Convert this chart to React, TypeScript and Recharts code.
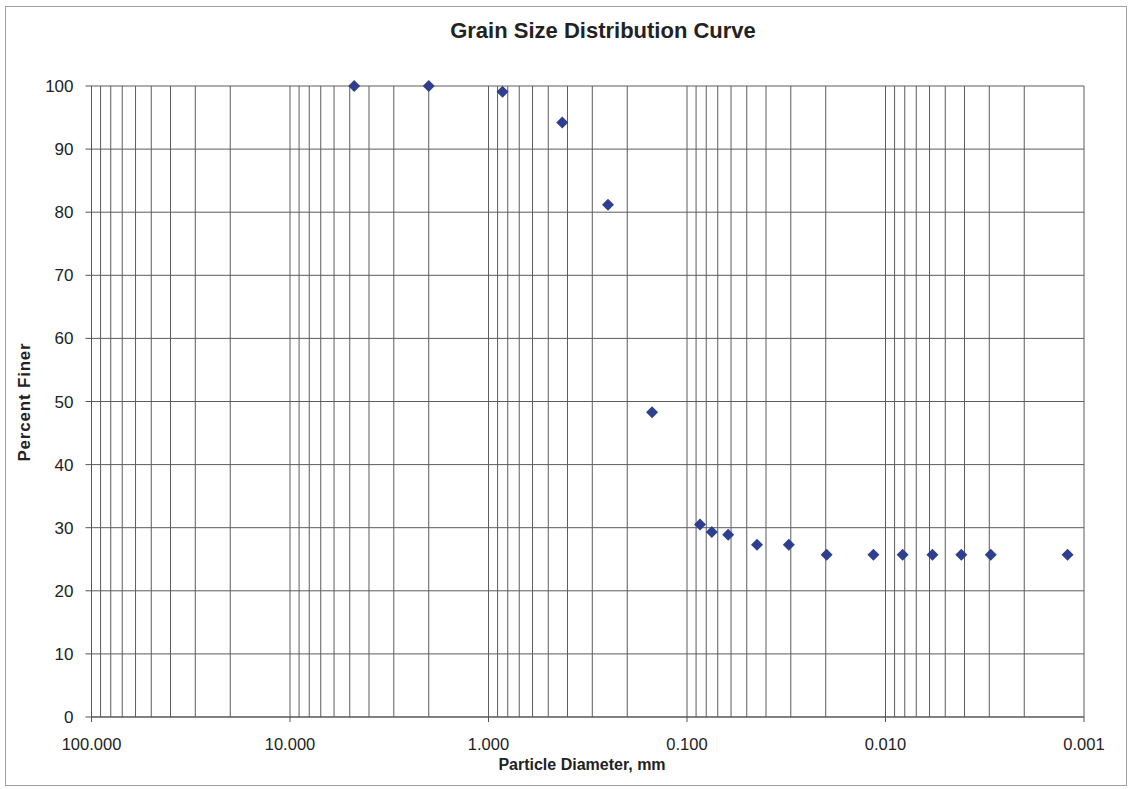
import React from "react";
import {
  CartesianGrid,
  ReferenceLine,
  Scatter,
  ScatterChart,
  XAxis,
  YAxis,
} from "recharts";

// sieve + hydrometer readings
const diameters = [
  4.75, 2.0, 0.85, 0.425, 0.25, 0.15, 0.086, 0.075, 0.062, 0.0444, 0.0307,
  0.0198, 0.0115, 0.0082, 0.0058, 0.00415, 0.00295, 0.00121,
];
const percentFiner = [
  100, 100, 99.1, 94.2, 81.2, 48.3, 30.5, 29.3, 28.9, 27.3, 27.3, 25.7, 25.7,
  25.7, 25.7, 25.7, 25.7, 25.7,
];
const decadeTicks = [100, 10, 1, 0.1, 0.01, 0.001];
const yTicks = [0, 10, 20, 30, 40, 50, 60, 70, 80, 90, 100];

// log grid: 1..9 in each decade
const gridValues: number[] = [];
[0.001, 0.01, 0.1, 1, 10].forEach((d) => {
  for (let k = 1; k <= 9; k++) gridValues.push(+(k * d).toPrecision(3));
});
gridValues.push(100);

const data = diameters.map((d, i) => ({ d, p: percentFiner[i] }));

const FONT = '"Liberation Sans", Arial, sans-serif';
const MARK = "#2f3f8f";
const GRID = "#5c5c5c";

function Diamond(props: { cx?: number; cy?: number }) {
  const { cx = 0, cy = 0 } = props;
  const r = 6;
  return (
    <path
      d={`M${cx},${cy - r}L${cx + r},${cy}L${cx},${cy + r}L${cx - r},${cy}Z`}
      fill={MARK}
    />
  );
}

export default function App() {
  return (
    <div
      style={{
        position: "absolute",
        left: 0,
        top: 0,
        width: 1132,
        height: 789,
        background: "#fff",
        fontFamily: FONT,
      }}
    >
      <div
        style={{
          position: "absolute",
          left: 5,
          top: 6,
          width: 1122,
          height: 780,
          border: "1px solid #a0a0a0",
          boxSizing: "border-box",
        }}
      />
      <div
        style={{
          position: "absolute",
          left: 0,
          width: 1206,
          top: 18,
          textAlign: "center",
          fontSize: 22,
          fontWeight: "bold",
          color: "#222",
        }}
      >
        Grain Size Distribution Curve
      </div>
      <div
        style={{
          position: "absolute",
          left: 0,
          width: 1164,
          top: 756,
          textAlign: "center",
          fontSize: 16,
          fontWeight: "bold",
          color: "#222",
        }}
      >
        Particle Diameter, mm
      </div>
      <div
        style={{
          position: "absolute",
          left: 25,
          top: 402,
          transform: "translate(-50%, -50%) rotate(-90deg)",
          whiteSpace: "nowrap",
          fontSize: 17,
          fontWeight: "bold",
          letterSpacing: 0.8,
          color: "#222",
        }}
      >
        Percent Finer
      </div>
      <ScatterChart
        width={1132}
        height={789}
        margin={{ top: 86, right: 48, bottom: 0, left: 40 }}
        style={{ position: "absolute", left: 0, top: 0 }}
      >
        <CartesianGrid stroke={GRID} strokeWidth={1} vertical={false} />
        {gridValues.map((v) => (
          <ReferenceLine key={v} x={v} stroke={GRID} strokeWidth={1} />
        ))}
        <XAxis
          type="number"
          dataKey="d"
          scale="log"
          domain={[0.001, 100]}
          reversed
          ticks={decadeTicks}
          allowDataOverflow
          tickFormatter={(v: number) => v.toFixed(3)}
          height={72}
          tickSize={5}
          tickMargin={16}
          stroke="#555"
          tick={{ fill: "#222", fontSize: 16.5, fontFamily: FONT }}
        />
        <YAxis
          type="number"
          dataKey="p"
          domain={[0, 100]}
          ticks={yTicks}
          width={51.5}
          tickSize={6}
          tickMargin={12}
          stroke="#555"
          tick={{ fill: "#222", fontSize: 17, fontFamily: FONT }}
        />
        <Scatter data={data} shape={Diamond} isAnimationActive={false} />
      </ScatterChart>
    </div>
  );
}
